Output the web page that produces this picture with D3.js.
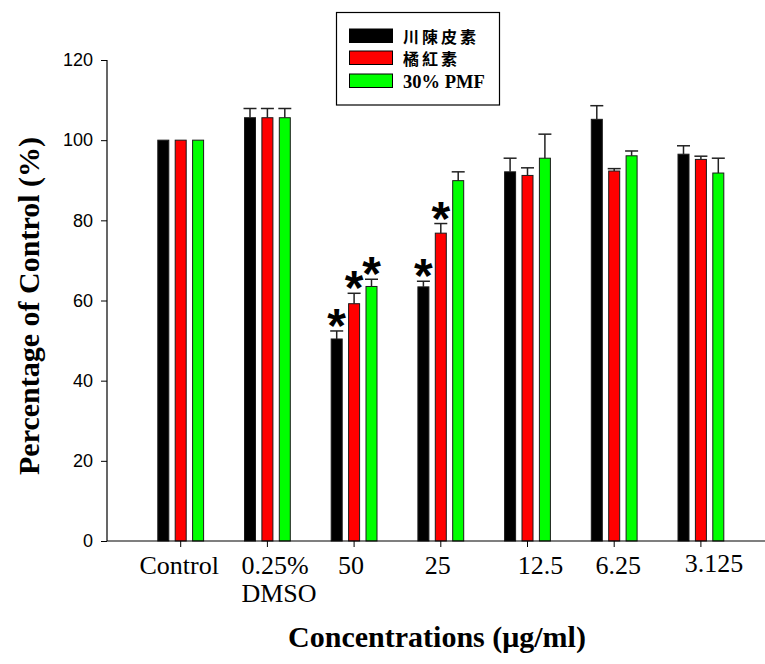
<!DOCTYPE html>
<html>
<head>
<meta charset="utf-8">
<script src="https://cdn.jsdelivr.net/npm/d3@7"></script>
<style>
  html, body { margin: 0; padding: 0; background: #fff; }
  svg { display: block; }
</style>
</head>
<body>
<svg id="chart" width="765" height="664"></svg>
<script>
// ---- data ----
const categories = ["Control", "0.25%\nDMSO", "50", "25", "12.5", "6.25", "3.125"];
const seriesNames = ["川陳皮素", "橘紅素", "30% PMF"];
const seriesColors = ["#000000", "#ff0000", "#00ff00"];
const nobiletin = [100, 105.6, 50.4, 63.4, 92.1, 105.2, 96.5];
const nobiletinErr = [0, 2.3, 2.0, 1.4, 3.4, 3.4, 2.1];
const tangeretin = [100, 105.6, 59.2, 76.8, 91.2, 92.3, 95.2];
const tangeretinErr = [0, 2.3, 2.6, 2.4, 1.9, 0.6, 0.8];
const pmf30 = [100, 105.6, 63.5, 89.9, 95.5, 96.1, 91.8];
const pmf30Err = [0, 2.3, 1.8, 2.2, 6.0, 1.2, 3.7];
const nobiletinSig = [false, false, true, true, false, false, false];
const tangeretinSig = [false, false, true, true, false, false, false];
const pmf30Sig = [false, false, true, false, false, false, false];
const yTicks = [0, 20, 40, 60, 80, 100, 120];

const series = [
  { name: seriesNames[0], color: seriesColors[0], values: nobiletin, err: nobiletinErr, sig: nobiletinSig },
  { name: seriesNames[1], color: seriesColors[1], values: tangeretin, err: tangeretinErr, sig: tangeretinSig },
  { name: seriesNames[2], color: seriesColors[2], values: pmf30, err: pmf30Err, sig: pmf30Sig }
];

// ---- layout ----
const svg = d3.select("#chart");
const axisLeftX = 107;
const axisRightX = 765;
const y = d3.scaleLinear().domain([0, 120]).range([541, 60]);
const x = d3.scalePoint().domain(categories).range([180.7, 700.9]);
const off = d3.scaleLinear().domain([0, 2]).range([-17.4, 17.4]);
const barW = 11;
const serif = "'Liberation Serif', 'Times New Roman', serif";
const sans = "'Liberation Sans', Arial, sans-serif";

// bars
series.forEach((s, si) => {
  const g = svg.append("g");
  categories.forEach((c, i) => {
    const cx = x(c) + off(si);
    g.append("rect")
      .attr("x", cx - barW / 2)
      .attr("y", y(s.values[i]))
      .attr("width", barW)
      .attr("height", y(0) - y(s.values[i]))
      .attr("fill", s.color)
      .attr("stroke", "#1a1a1a")
      .attr("stroke-width", 1);
    if (s.err[i] > 0) {
      const top = y(s.values[i] + s.err[i]);
      g.append("line")
        .attr("x1", cx).attr("x2", cx)
        .attr("y1", y(s.values[i])).attr("y2", top)
        .attr("stroke", "#222").attr("stroke-width", 1.5);
      g.append("line")
        .attr("x1", cx - 6.5).attr("x2", cx + 6.5)
        .attr("y1", top).attr("y2", top)
        .attr("stroke", "#222").attr("stroke-width", 1.5);
    }
    if (s.sig[i]) {
      const top = y(s.values[i] + s.err[i]);
      g.append("text")
        .attr("x", cx)
        .attr("y", top + 11)
        .attr("text-anchor", "middle")
        .attr("font-family", sans)
        .attr("font-weight", "bold")
        .attr("font-size", 48)
        .attr("fill", "#000")
        .text("*");
    }
  });
});

// y axis
const yAxis = d3.axisLeft(y).tickValues(yTicks).tickSize(6).tickPadding(8);
const yg = svg.append("g").attr("transform", `translate(${axisLeftX},0)`).call(yAxis);
yg.select(".domain").remove();
yg.selectAll("line").attr("stroke", "#000");
yg.selectAll("text").attr("font-family", sans).attr("font-size", 18).attr("fill", "#000");
svg.append("line")
  .attr("x1", axisLeftX).attr("x2", axisLeftX)
  .attr("y1", y(120)).attr("y2", y(0))
  .attr("stroke", "#000").attr("stroke-width", 1.2);

// x axis
svg.append("line")
  .attr("x1", axisLeftX).attr("x2", axisRightX)
  .attr("y1", y(0)).attr("y2", y(0))
  .attr("stroke", "#000").attr("stroke-width", 1.2);
const xg = svg.append("g");
categories.forEach((c) => {
  xg.append("line")
    .attr("x1", x(c)).attr("x2", x(c))
    .attr("y1", y(0)).attr("y2", y(0) + 6)
    .attr("stroke", "#000");
});
const labelNudge = [-1.5, 0, -3, -3, 13, 4, 13];
const labelLift = [0, 0, 0, 0, 0, 0, -2];
categories.forEach((c, i) => {
  const lines = c.split("\n");
  const t = xg.append("text")
    .attr("font-family", serif)
    .attr("font-size", 26)
    .attr("fill", "#000");
  if (lines.length > 1) {
    t.attr("text-anchor", "start").attr("x", x(c) - 26).attr("y", 574 + labelLift[i]);
    lines.forEach((ln, k) => {
      t.append("tspan").attr("x", x(c) - 26).attr("dy", k === 0 ? 0 : 27.5).text(ln);
    });
  } else {
    t.attr("text-anchor", "middle")
      .attr("x", x(c) + labelNudge[i])
      .attr("y", 574 + labelLift[i])
      .text(c);
  }
});

// axis titles
svg.append("text")
  .attr("transform", "translate(39,306) rotate(-90)")
  .attr("text-anchor", "middle")
  .attr("font-family", serif)
  .attr("font-weight", "bold")
  .attr("font-size", 30)
  .attr("fill", "#000")
  .text("Percentage of Control (%)");

svg.append("text")
  .attr("x", 437)
  .attr("y", 647)
  .attr("text-anchor", "middle")
  .attr("font-family", serif)
  .attr("font-weight", "bold")
  .attr("font-size", 30)
  .attr("fill", "#000")
  .text("Concentrations (μg/ml)");

// legend
const lg = svg.append("g");
lg.append("rect")
  .attr("x", 336.5).attr("y", 12.5)
  .attr("width", 163).attr("height", 92.5)
  .attr("fill", "#fff").attr("stroke", "#000").attr("stroke-width", 1.2);
const rowY = [29, 51, 74];
series.forEach((s, si) => {
  lg.append("rect")
    .attr("x", 349.5).attr("y", rowY[si])
    .attr("width", 43).attr("height", 13.5)
    .attr("fill", s.color).attr("stroke", "#000").attr("stroke-width", 1);
  const isCJK = si < 2;
  lg.append("text")
    .attr("x", 403)
    .attr("y", rowY[si] + 13.5)
    .attr("font-family", isCJK ? "'Noto Sans CJK TC', 'Noto Sans CJK SC', sans-serif" : serif)
    .attr("font-weight", "bold")
    .attr("font-size", isCJK ? 16 : 18.5)
    .attr("letter-spacing", isCJK ? 3 : 0)
    .attr("fill", "#000")
    .text(s.name);
});
</script>
</body>
</html>
